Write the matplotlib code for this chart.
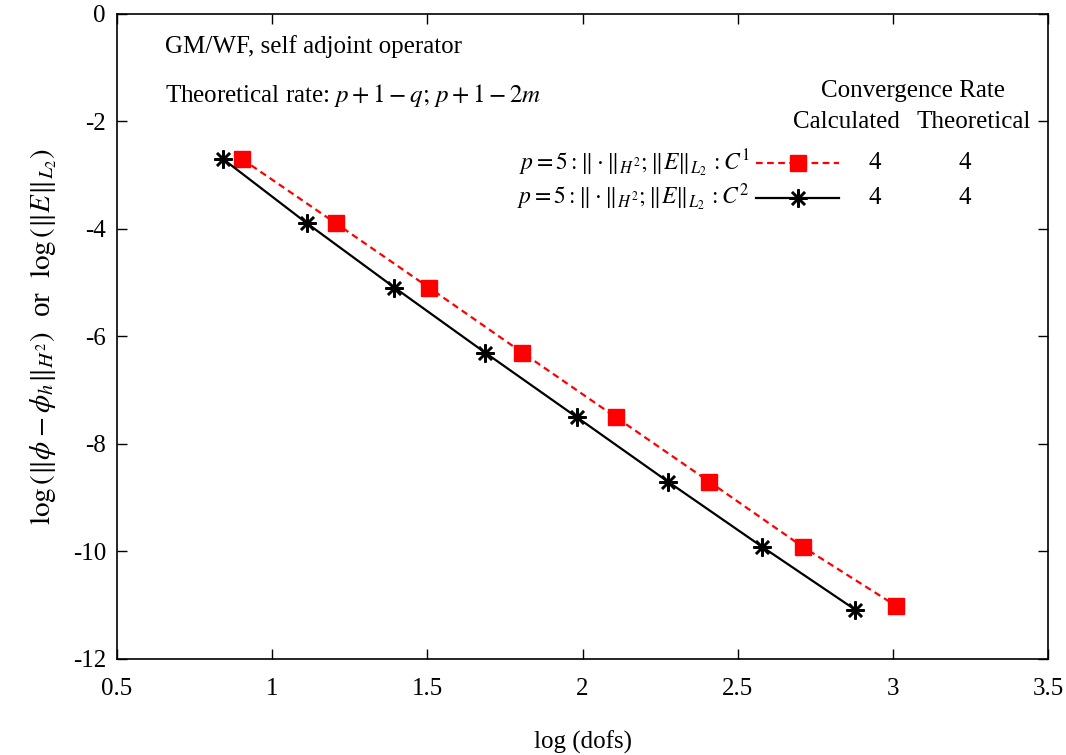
import numpy as np
import matplotlib
matplotlib.use("Agg")
import matplotlib.pyplot as plt
from matplotlib.lines import Line2D

plt.rcParams['font.family'] = ['Liberation Serif', 'DejaVu Serif']
plt.rcParams['mathtext.fontset'] = 'stix'

# log(dofs) and log(error) for the two discretisations
x_c1 = [0.903, 1.204, 1.505, 1.806, 2.107, 2.408, 2.709, 3.010]
y_c1 = [-2.70, -3.89, -5.09, -6.30, -7.50, -8.70, -9.91, -11.01]
x_c2 = [0.842, 1.111, 1.394, 1.686, 1.981, 2.275, 2.578, 2.878]
y_c2 = [-2.70, -3.89, -5.09, -6.30, -7.50, -8.70, -9.91, -11.08]

labels = [r"$p=5:\Vert\cdot\Vert_{H^2};\Vert E\Vert_{L_2}\,:C^1$",
          r"$p=5:\Vert\cdot\Vert_{H^2};\Vert E\Vert_{L_2}\,:C^2$"]
rate_calc = ["4", "4"]
rate_theo = ["4", "4"]

xticks = [0.5, 1, 1.5, 2, 2.5, 3, 3.5]
xticklabels = ["0.5", "1", "1.5", "2", "2.5", "3", "3.5"]
yticks = [0, -2, -4, -6, -8, -10, -12]

fs = 18

fig = plt.figure(figsize=(10.66, 7.55), dpi=100)
ax = fig.add_axes([0.1098, 0.1272, 0.8733, 0.8543])

ax.plot(x_c1, y_c1, color='red', ls=(0, (3, 2)), lw=1.6,
        marker='s', ms=11, mec='red', mfc='red')
ax.plot(x_c2, y_c2, color='black', ls='-', lw=1.6,
        marker=(8, 2, 0), ms=13, mew=1.8, mec='black')

ax.set_xlim(0.5, 3.5)
ax.set_ylim(-12, 0)
ax.set_xticks(xticks)
ax.set_xticklabels(xticklabels)
ax.set_yticks(yticks)
ax.set_yticklabels([str(t) for t in yticks])
ax.tick_params(direction='in', length=7, width=1, top=True, right=True,
               labelsize=fs, pad=14)
ax.tick_params(axis='y', pad=8)
for s in ax.spines.values():
    s.set_linewidth(1.2)

ax.set_xlabel("log (dofs)", fontsize=fs, labelpad=22)
ax.set_ylabel(r"$\log\left(\Vert\phi-\phi_h\Vert_{H^2}\right)$  or  $\log\left(\Vert E\Vert_{L_2}\right)$",
              fontsize=21, labelpad=10)

ax.text(0.052, 0.949, "GM/WF, self adjoint operator", transform=ax.transAxes,
        fontsize=fs, va='center', ha='left')
ax.text(0.052, 0.874, r"Theoretical rate: $p+1-q;\, p+1-2m$", transform=ax.transAxes,
        fontsize=fs, va='center', ha='left')

# hand-built legend with rate columns
ax.text(0.855, 0.881, "Convergence Rate", transform=ax.transAxes,
        fontsize=fs, va='center', ha='center')
ax.text(0.783, 0.833, "Calculated", transform=ax.transAxes,
        fontsize=fs, va='center', ha='center')
ax.text(0.920, 0.833, "Theoretical", transform=ax.transAxes,
        fontsize=fs, va='center', ha='center')

row_y = [0.769, 0.715]
styles = [dict(color='red', ls=(0, (3, 2)), marker='s', ms=11, mfc='red', mec='red'),
          dict(color='black', ls='-', marker=(8, 2, 0), ms=13, mew=1.8, mec='black')]
for i, yy in enumerate(row_y):
    ax.text(0.680, yy, labels[i], transform=ax.transAxes,
            fontsize=17, va='center', ha='right')
    ax.add_line(Line2D([0.686, 0.776], [yy, yy], transform=ax.transAxes, lw=1.6,
                       color=styles[i]['color'], ls=styles[i]['ls']))
    ax.add_line(Line2D([0.731], [yy], transform=ax.transAxes, ls='none',
                       marker=styles[i]['marker'], ms=styles[i]['ms'],
                       mfc=styles[i].get('mfc', 'none'), mec=styles[i]['mec'],
                       mew=styles[i].get('mew', 1)))
    ax.text(0.814, yy, rate_calc[i], transform=ax.transAxes,
            fontsize=fs, va='center', ha='center')
    ax.text(0.911, yy, rate_theo[i], transform=ax.transAxes,
            fontsize=fs, va='center', ha='center')

fig.savefig("out.png", dpi=100)
